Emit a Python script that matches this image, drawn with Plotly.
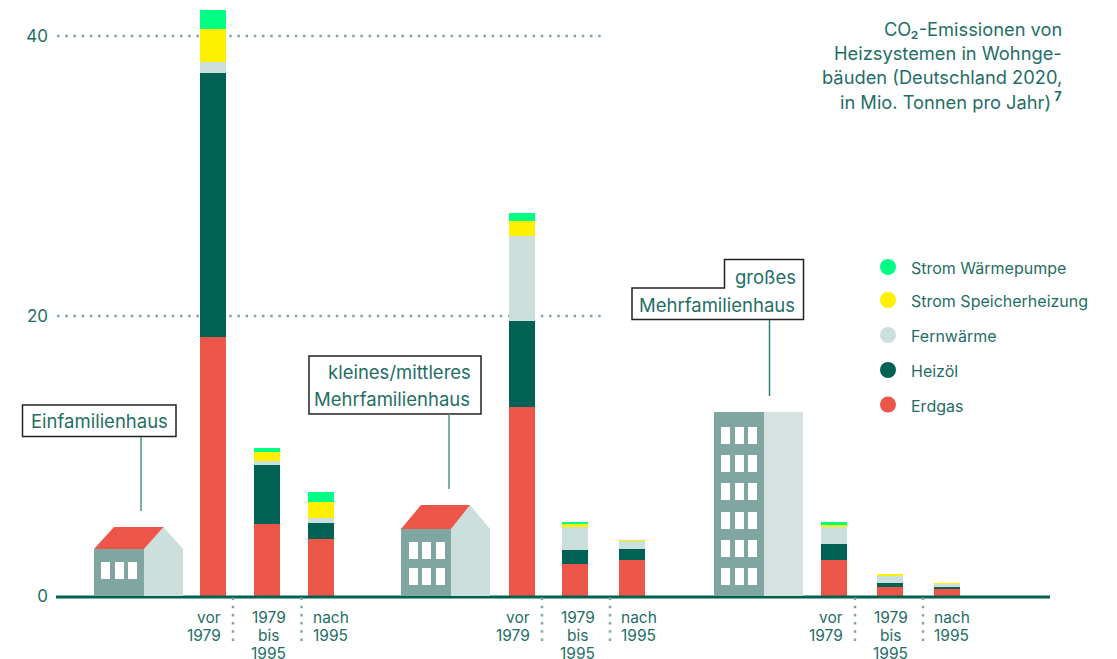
import plotly.graph_objects as go

W, H = 1117, 659
FONT = "Inter"
TEAL = "#1f6e65"
DARK = "#00614f"
RED = "#ec5649"
SERIES_COL = {"Erdgas": RED, "Heizöl": "#006155", "Fernwärme": "#cbdfdc",
              "Strom Speicherheizung": "#fff000", "Strom Wärmepumpe": "#00ff85"}

buildings = ["Einfamilienhaus", "kleines/mittleres Mehrfamilienhaus", "großes Mehrfamilienhaus"]
periods = ["vor 1979", "1979 bis 1995", "nach 1995"]

erdgas = [18.5, 5.14, 4.07, 13.5, 2.29, 2.57, 2.57, 0.64, 0.57]
heizoel = [18.86, 4.21, 1.14, 6.14, 1.0, 0.79, 1.14, 0.29, 0.1]
fernwaerme = [0.79, 0.29, 0.36, 6.1, 1.62, 0.57, 1.21, 0.52, 0.21]
speicher = [2.36, 0.64, 1.14, 1.04, 0.24, 0.05, 0.21, 0.12, 0.04]
waermepumpe = [1.36, 0.29, 0.71, 0.57, 0.14, 0.0, 0.14, 0.0, 0.0]

series = [("Erdgas", erdgas), ("Heizöl", heizoel), ("Fernwärme", fernwaerme),
          ("Strom Speicherheizung", speicher), ("Strom Wärmepumpe", waermepumpe)]

y_ticks = [0, 20, 40]

# layout positions (pixels)
bar_x = [213, 267, 321, 522, 575, 632, 834, 890, 947]
Y0, PX_PER_UNIT = 596, 14.0
L = 50


def px(p):
    return (p - L) / (W - L)


def py(p):
    return 1 - p / H


fig = go.Figure()
for name, vals in series:
    fig.add_trace(go.Bar(x=bar_x, y=vals, name=name, width=26,
                         marker=dict(color=SERIES_COL[name], line_width=0), showlegend=False))

shapes, ann = [], []
REF = dict(xref="paper", yref="paper")


def rect(x0, y0, x1, y1, col, layer="above"):
    shapes.append(dict(type="rect", **REF, x0=px(x0), x1=px(x1), y0=py(y1), y1=py(y0),
                       fillcolor=col, line_width=0, layer=layer))


def poly(pts, col, line=None, lw=0):
    d = "M" + " L".join(f"{px(x):.5f},{py(y):.5f}" for x, y in pts) + " Z"
    shapes.append(dict(type="path", **REF, path=d, fillcolor=col,
                       line=dict(color=line or col, width=lw), layer="above"))


def vline(x, y0, y1, col="#4f9088", w=1.5, dash=None):
    shapes.append(dict(type="line", **REF, x0=px(x), x1=px(x), y0=py(y0), y1=py(y1),
                       line=dict(color=col, width=w, dash=dash or "solid"), layer="above"))


def text(x, y, s, size=16, anchor="right", col=TEAL):
    ann.append(dict(x=px(x), y=py(y), **REF, text=s, showarrow=False, xanchor=anchor,
                    yanchor="middle", align=anchor, font=dict(family=FONT, size=size, color=col)))


# grid lines (dotted)
for v in y_ticks[1:]:
    shapes.append(dict(type="line", xref="paper", yref="y", x0=px(57), x1=px(606), y0=v, y1=v, layer="below",
                       line=dict(color="#7fa6a1", width=2.5, dash="2.5px,5.7px")))
# baseline
shapes.append(dict(type="line", **REF, x0=px(56), x1=px(1050), y0=py(597), y1=py(597),
                   line=dict(color=DARK, width=3), layer="above"))

GREY, SIDE, SIDE2 = "#7fa6a1", "#cbdfdc", "#d6e2e0"
WIN = "#ffffff"

# house 1
rect(94, 549, 144, 596, GREY)
poly([(144, 549), (163.5, 527), (183, 549), (183, 596), (144, 596)], SIDE)
poly([(94, 549), (114, 527), (163.5, 527), (144, 549)], RED)
for a, b in [(101, 110), (115, 124), (128, 137)]:
    rect(a, 562, b, 579, WIN)
# house 2
rect(401, 529, 451, 596, GREY)
poly([(451, 529), (470, 505), (490, 529), (490, 596), (451, 596)], SIDE)
poly([(401, 529), (421, 505), (470, 505), (451, 529)], RED)
for a, b in [(409, 418), (422, 431), (436, 445)]:
    for c, d in [(542, 559), (568, 585)]:
        rect(a, c, b, d, WIN)
# tower
rect(714, 412, 764, 596, GREY)
rect(764, 412, 803, 596, SIDE2)
for a, b in [(721, 730), (735, 744), (748, 757)]:
    for c, d in [(427, 444), (455, 472), (483, 500), (512, 529), (540, 557), (568, 585)]:
        rect(a, c, b, d, WIN)

# callouts
BOX = "#222222"
CALL = 18.5
poly([(22.5, 405), (176, 405), (176, 436.5), (22.5, 436.5)], "#ffffff", BOX, 1.5)
vline(141, 437, 511)
text(99.5, 421, "Einfamilienhaus", CALL, "center")

poly([(309, 356), (481, 356), (481, 414), (309, 414)], "#ffffff", BOX, 1.5)
vline(449, 414, 489)
text(473, 372, "kleines/mittleres", CALL)
text(472, 399, "Mehrfamilienhaus", CALL)

poly([(724.5, 259.5), (803.5, 259.5), (803.5, 319.5), (632, 319.5), (632, 288), (724.5, 288)],
     "#ffffff", BOX, 1.5)
vline(769.5, 320, 396, "#2e7f73")
text(798, 277, "großes", CALL)
text(797, 305, "Mehrfamilienhaus", CALL)

# period labels and separators
LAB = 15.5
for s1, s2 in [(233, 301.5), (542, 610), (855, 923)]:
    for s in (s1, s2):
        vline(s, 597.5, 642, "#7fa6a1", 2.5, "2.5px,5.7px")
    for y, t in zip([617, 635.5], ["vor", "1979"]):
        text(s1 - 10, y, t, LAB, "right")
    for y, t in zip([617, 635.5, 653], ["1979", "bis", "1995"]):
        text(s1 + 35.5, y, t, LAB, "center")
    for y, t in zip([617, 635.5], ["nach", "1995"]):
        text(s2 + 9, y, t, LAB, "left")

# legend
for y, (name, _) in zip([267, 300, 335, 370, 404.5], series[::-1]):
    shapes.append(dict(type="circle", **REF, x0=px(880), x1=px(896), y0=py(y + 8), y1=py(y - 8),
                       fillcolor=SERIES_COL[name], line_width=0, layer="above"))
    text(909, y + 1, name, 16, "left")

# title
for y, s in zip([29, 53, 77, 101], ["CO₂-Emissionen von", "Heizsystemen in Wohnge-",
                                     "bäuden (Deutschland 2020,", "in Mio. Tonnen pro Jahr)<sup><b> 7</b></sup>"]):
    text(1064, y, s, 18.3)

fig.update_layout(
    width=W, height=H, autosize=False, barmode="stack", bargap=0,
    margin=dict(l=L, r=0, t=0, b=0), plot_bgcolor="white", paper_bgcolor="white",
    xaxis=dict(range=[L, W], visible=False, fixedrange=True),
    yaxis=dict(range=[(Y0 - H) / PX_PER_UNIT, Y0 / PX_PER_UNIT], tickvals=y_ticks, showgrid=False,
               zeroline=False, showline=False, ticks="", tickfont=dict(family=FONT, size=17, color=TEAL),
               ticklabelstandoff=1, fixedrange=True),
    shapes=shapes, annotations=ann,
)
fig.write_html("out.html", config={"displayModeBar": False},
               post_script="document.body.style.margin='0';")
